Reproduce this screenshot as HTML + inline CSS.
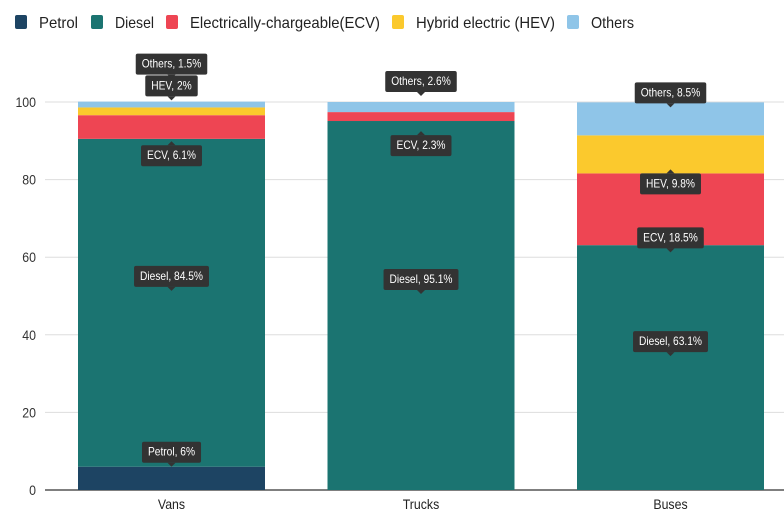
<!DOCTYPE html>
<html><head><meta charset="utf-8">
<style>
body{margin:0;width:784px;height:516px;background:#fff;overflow:hidden;font-family:"Liberation Sans",sans-serif;}
</style></head>
<body>
<svg id="chart" width="784" height="516" xmlns="http://www.w3.org/2000/svg"></svg>
<script>
const categories = ["Vans","Trucks","Buses"];
const seriesNames = ["Petrol","Diesel","ECV","HEV","Others"];
const legendLabels = ["Petrol","Diesel","Electrically-chargeable(ECV)","Hybrid electric (HEV)","Others"];
const petrol = [6, 0, 0];
const diesel = [84.5, 95.1, 63.1];
const ecv = [6.1, 2.3, 18.5];
const hev = [2, 0, 9.8];
const others = [1.5, 2.6, 8.5];
const labelText = [["Petrol, 6%","Diesel, 84.5%","ECV, 6.1%","HEV, 2%","Others, 1.5%"],
                   [null,"Diesel, 95.1%","ECV, 2.3%",null,"Others, 2.6%"],
                   [null,"Diesel, 63.1%","ECV, 18.5%","HEV, 9.8%","Others, 8.5%"]];
const yTicks = [0,20,40,60,80,100];

const colors = ["#1d4463","#1b7471","#ee4553","#fbc92d","#8fc5e8"];
const legendX = [15,91,166,392,567];
const legendW = [39,39,190,139,43];
const labelOffsets = [[-15,137,40,-22,-38],[0,158,33,0,-21],[0,96,64,48,-10]];
const labelPointerUp = [[false,false,true,false,false],[false,false,true,false,false],[false,false,false,true,false]];
const series = [petrol,diesel,ecv,hev,others];
const svg = document.getElementById('chart');
const NS = "http://www.w3.org/2000/svg";
const x0=46.75, x1=784, yBase=490, yTop=102;
const y = v => yBase - v*(yBase-yTop)/100;
const band = 249.5;
const xc = i => x0 + band*(i+0.5);
const barW = 187;
function mk(tag, attrs, parent){const e=document.createElementNS(NS,tag);for(const k in attrs)e.setAttribute(k,attrs[k]);(parent||svg).appendChild(e);return e;}
function squeeze(t,f){const w=t.getComputedTextLength()*f;t.setAttribute('textLength',w);t.setAttribute('lengthAdjust','spacingAndGlyphs');return w;}

// legend
legendLabels.forEach((t,i)=>{
  const g=mk('g',{});
  
  
  mk('rect',{x:legendX[i],y:15,width:12,height:14,rx:2,fill:colors[i]},g);
  const tx=mk('text',{x:legendX[i]+24,y:28,'font-size':16,fill:'#222',textLength:legendW[i],lengthAdjust:'spacingAndGlyphs'},g);
  tx.textContent=t;
});

// grid & y ticks
yTicks.forEach(v=>{
  const l=mk('line',{x1:45,x2:x1,y1:y(v),y2:y(v),stroke:v===0?'#333':'#ddd','stroke-width':v===0?1.2:1});
  
  
  const t=mk('text',{x:36,y:y(v)+5,'font-size':14,fill:'#333','text-anchor':'end'});
  
  
  t.textContent=v;
  squeeze(t,0.88);
});

// bars
const labelLayer=[];
categories.forEach((c,i)=>{
  let cum=0;
  series.forEach((s,k)=>{
    const v=s[i];
    const top=cum+v;
    if(v>0){
      const r=mk('rect',{x:xc(i)-barW/2,y:y(top),width:barW,height:y(cum)-y(top),fill:colors[k]});
      
      
    }
    if(labelText[i][k]) labelLayer.push({i,k,top,text:labelText[i][k]});
    cum=top;
  });
  const t=mk('text',{x:xc(i),y:509,'font-size':14,fill:'#222','text-anchor':'middle'});
  
  
  t.textContent=c;
  squeeze(t,0.88);
});

// labels
labelLayer.forEach(o=>{
  const cy=y(o.top)+labelOffsets[o.i][o.k];
  const cx=xc(o.i);
  const g=mk('g',{});
  
  
  const t=mk('text',{x:cx,y:cy+4,'font-size':12,fill:'#fff','text-anchor':'middle'});
  t.textContent=o.text;
  const w=squeeze(t,0.85)+12;
  mk('rect',{x:cx-w/2,y:cy-10,width:w,height:21,rx:2,fill:'#333'},g);
  const up=labelPointerUp[o.i][o.k];
  const p=up?`${cx-4},${cy-10} ${cx+4},${cy-10} ${cx},${cy-14}`:`${cx-4},${cy+11} ${cx+4},${cy+11} ${cx},${cy+15}`;
  mk('polygon',{points:p,fill:'#333'},g);
  g.appendChild(t);
});
</script>
</body></html>
